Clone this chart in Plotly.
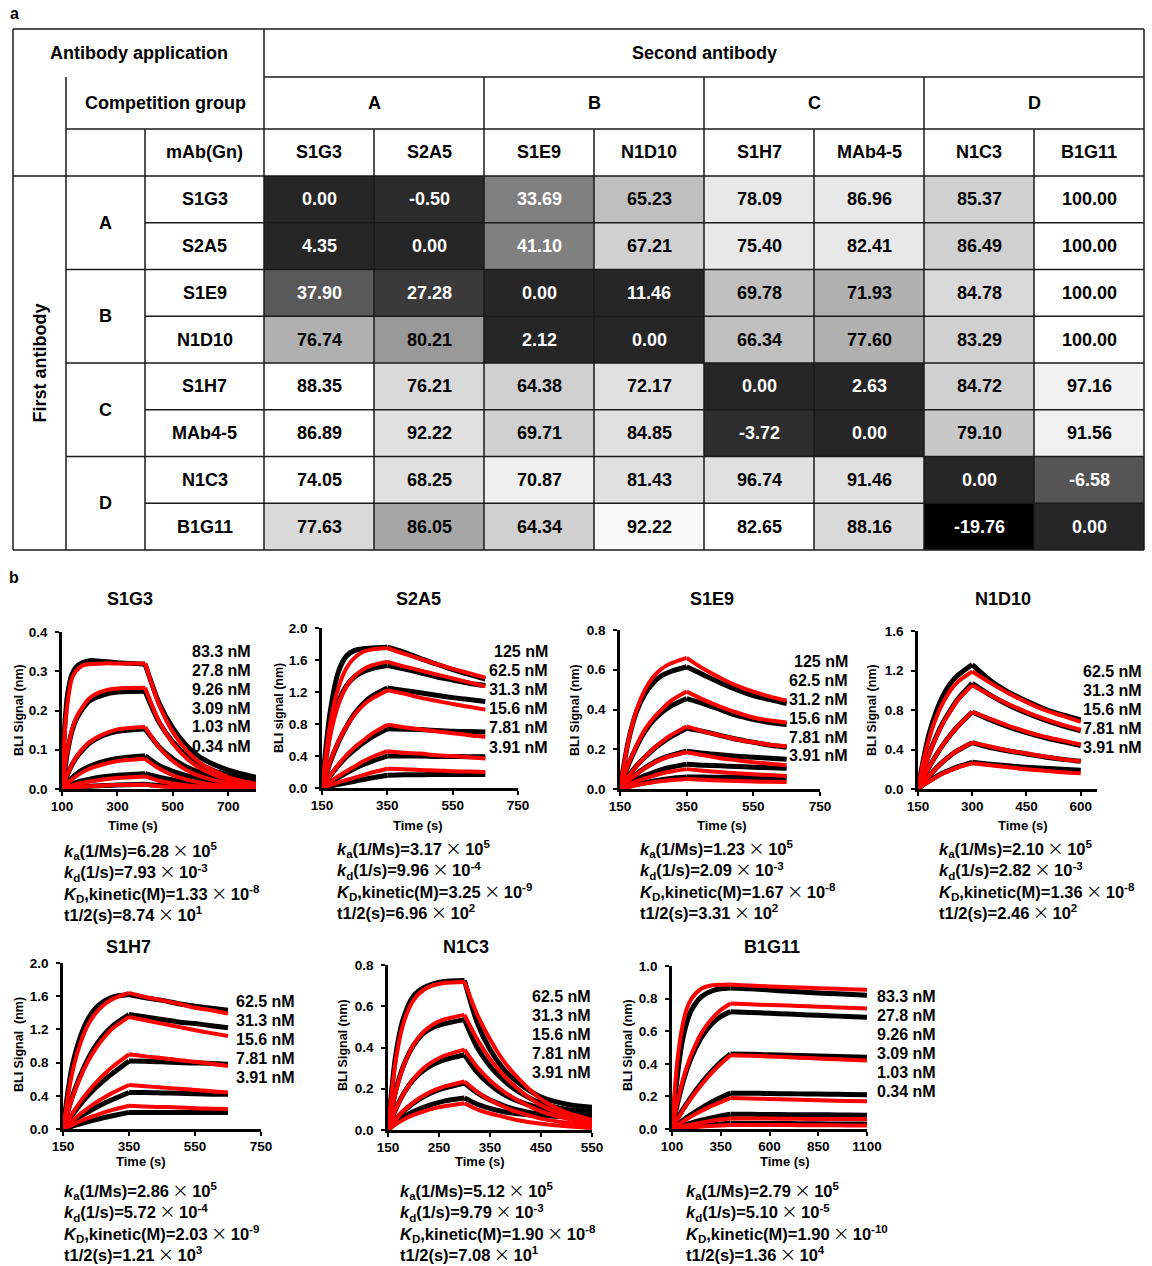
import plotly.graph_objects as go

W, H = 1152, 1266
FONT = "Liberation Sans, Arial, sans-serif"


def X(px):
    return px / W


def Y(py):
    return 1 - py / H


# ---------------------------------------------------------------- panel a data
GROUPS = ["A", "B", "C", "D"]
MABS = ["S1G3", "S2A5", "S1E9", "N1D10", "S1H7", "MAb4-5", "N1C3", "B1G11"]
COMPETITION = [
    [0.00, -0.50, 33.69, 65.23, 78.09, 86.96, 85.37, 100.00],
    [4.35, 0.00, 41.10, 67.21, 75.40, 82.41, 86.49, 100.00],
    [37.90, 27.28, 0.00, 11.46, 69.78, 71.93, 84.78, 100.00],
    [76.74, 80.21, 2.12, 0.00, 66.34, 77.60, 83.29, 100.00],
    [88.35, 76.21, 64.38, 72.17, 0.00, 2.63, 84.72, 97.16],
    [86.89, 92.22, 69.71, 84.85, -3.72, 0.00, 79.10, 91.56],
    [74.05, 68.25, 70.87, 81.43, 96.74, 91.46, 0.00, -6.58],
    [77.63, 86.05, 64.34, 92.22, 82.65, 88.16, -19.76, 0.00],
]
# cell shading (style)
CELL_GRAY = [
    ["#262626", "#2b2b2b", "#7f7f7f", "#bfbfbf", "#e8e8e8", "#e8e8e8", "#d0d0d0", "#ffffff"],
    ["#262626", "#262626", "#808080", "#d0d0d0", "#e8e8e8", "#e8e8e8", "#d0d0d0", "#ffffff"],
    ["#595959", "#3a3a3a", "#262626", "#262626", "#c0c0c0", "#b0b0b0", "#d9d9d9", "#ffffff"],
    ["#b0b0b0", "#999999", "#262626", "#262626", "#bfbfbf", "#b0b0b0", "#d0d0d0", "#ffffff"],
    ["#ffffff", "#d9d9d9", "#d0d0d0", "#e0e0e0", "#262626", "#262626", "#d0d0d0", "#f2f2f2"],
    ["#ffffff", "#e0e0e0", "#d0d0d0", "#e0e0e0", "#2e2e2e", "#262626", "#c8c8c8", "#f0f0f0"],
    ["#ffffff", "#e0e0e0", "#efefef", "#e0e0e0", "#e0e0e0", "#e0e0e0", "#262626", "#555555"],
    ["#d9d9d9", "#a6a6a6", "#d0d0d0", "#f8f8f8", "#ffffff", "#d9d9d9", "#000000", "#262626"],
]

# ---------------------------------------------------------------- panel b data
KIN_LABELS = ["<i>k</i><sub>a</sub>(1/Ms)=", "<i>k</i><sub>d</sub>(1/s)=",
              "<i>K</i><sub>D</sub>,kinetic(M)=", "t1/2(s)="]

# S1G3
S1G3_CONC = ["83.3 nM", "27.8 nM", "9.26 nM", "3.09 nM", "1.03 nM", "0.34 nM"]
S1G3_T_ON = [100, 110, 120, 135, 150, 175, 200, 250, 300, 400]
S1G3_T_OFF = [400, 450, 500, 550, 600, 700, 800]
S1G3_DATA_ON = [
    [0, 0.16, 0.24, 0.29, 0.31, 0.322, 0.327, 0.325, 0.322, 0.318],
    [0, 0.05, 0.095, 0.145, 0.175, 0.205, 0.225, 0.24, 0.247, 0.249],
    [0, 0.02, 0.037, 0.06, 0.078, 0.10, 0.117, 0.137, 0.147, 0.153],
    [0, 0.01, 0.018, 0.028, 0.037, 0.049, 0.058, 0.07, 0.078, 0.085],
    [0, 0.004, 0.008, 0.012, 0.016, 0.021, 0.025, 0.031, 0.035, 0.039],
    [0, 0.001, 0.002, 0.003, 0.004, 0.006, 0.007, 0.009, 0.010, 0.012],
]
S1G3_DATA_OFF = [
    [0.318, 0.22, 0.155, 0.11, 0.08, 0.048, 0.03],
    [0.249, 0.17, 0.12, 0.085, 0.062, 0.035, 0.025],
    [0.153, 0.108, 0.077, 0.056, 0.042, 0.027, 0.02],
    [0.085, 0.06, 0.045, 0.034, 0.027, 0.02, 0.017],
    [0.039, 0.03, 0.023, 0.018, 0.015, 0.012, 0.01],
    [0.012, 0.009, 0.008, 0.007, 0.006, 0.005, 0.005],
]
S1G3_FIT_ON = [
    [0, 0.145, 0.22, 0.28, 0.30, 0.315, 0.318, 0.32, 0.32, 0.32],
    [0, 0.056, 0.10, 0.148, 0.18, 0.21, 0.232, 0.25, 0.256, 0.258],
    [0, 0.02, 0.038, 0.061, 0.08, 0.103, 0.12, 0.14, 0.152, 0.158],
    [0, 0.0077, 0.015, 0.024, 0.032, 0.043, 0.052, 0.063, 0.071, 0.077],
    [0, 0.0027, 0.0053, 0.0086, 0.012, 0.016, 0.019, 0.024, 0.028, 0.032],
    [0, 0.001, 0.002, 0.003, 0.004, 0.006, 0.007, 0.009, 0.010, 0.011],
]
S1G3_FIT_OFF = [
    [0.32, 0.215, 0.145, 0.098, 0.066, 0.030, 0.013],
    [0.258, 0.173, 0.116, 0.078, 0.052, 0.024, 0.011],
    [0.158, 0.106, 0.071, 0.048, 0.032, 0.015, 0.007],
    [0.077, 0.052, 0.035, 0.024, 0.016, 0.007, 0.003],
    [0.032, 0.021, 0.014, 0.009, 0.006, 0.003, 0.001],
    [0.011, 0.007, 0.005, 0.003, 0.002, 0.001, 0.0005],
]
S1G3_KIN_MANT = [6.28, 7.93, 1.33, 8.74]
S1G3_KIN_EXP = [5, -3, -8, 1]

# S2A5
S2A5_CONC = ["125 nM", "62.5 nM", "31.3 nM", "15.6 nM", "7.81 nM", "3.91 nM"]
S2A5_T_ON = [150, 175, 200, 225, 250, 275, 300, 350]
S2A5_T_OFF = [350, 400, 450, 500, 550, 600, 650]
S2A5_DATA_ON = [
    [0, 0.95, 1.45, 1.65, 1.72, 1.74, 1.75, 1.76],
    [0, 0.70, 1.08, 1.28, 1.39, 1.45, 1.49, 1.53],
    [0, 0.32, 0.57, 0.77, 0.93, 1.05, 1.14, 1.25],
    [0, 0.15, 0.28, 0.39, 0.48, 0.56, 0.63, 0.74],
    [0, 0.07, 0.13, 0.19, 0.245, 0.29, 0.33, 0.40],
    [0, 0.02, 0.045, 0.065, 0.085, 0.105, 0.125, 0.16],
]
S2A5_DATA_OFF = [
    [1.76, 1.70, 1.62, 1.55, 1.48, 1.42, 1.36],
    [1.53, 1.49, 1.44, 1.39, 1.35, 1.31, 1.28],
    [1.25, 1.22, 1.19, 1.16, 1.13, 1.105, 1.08],
    [0.74, 0.735, 0.73, 0.72, 0.71, 0.705, 0.70],
    [0.40, 0.40, 0.40, 0.395, 0.395, 0.39, 0.39],
    [0.16, 0.165, 0.165, 0.17, 0.17, 0.17, 0.17],
]
S2A5_FIT_ON = [
    [0, 0.80, 1.25, 1.50, 1.63, 1.70, 1.73, 1.75],
    [0, 0.65, 1.04, 1.27, 1.40, 1.48, 1.53, 1.58],
    [0, 0.33, 0.58, 0.77, 0.92, 1.03, 1.11, 1.22],
    [0, 0.156, 0.29, 0.41, 0.51, 0.59, 0.67, 0.79],
    [0, 0.077, 0.148, 0.21, 0.27, 0.33, 0.38, 0.46],
    [0, 0.035, 0.07, 0.10, 0.13, 0.16, 0.19, 0.24],
]
S2A5_FIT_OFF = [
    [1.75, 1.68, 1.615, 1.55, 1.49, 1.435, 1.38],
    [1.58, 1.52, 1.47, 1.42, 1.37, 1.32, 1.27],
    [1.22, 1.18, 1.13, 1.09, 1.05, 1.015, 0.98],
    [0.79, 0.76, 0.735, 0.71, 0.685, 0.66, 0.64],
    [0.46, 0.44, 0.43, 0.41, 0.40, 0.385, 0.37],
    [0.24, 0.235, 0.225, 0.22, 0.21, 0.205, 0.20],
]
S2A5_KIN_MANT = [3.17, 9.96, 3.25, 6.96]
S2A5_KIN_EXP = [5, -4, -9, 2]

# S1E9
S1E9_CONC = ["125 nM", "62.5 nM", "31.2 nM", "15.6 nM", "7.81 nM", "3.91 nM"]
S1E9_T_ON = [150, 175, 200, 225, 250, 275, 300, 350]
S1E9_T_OFF = [350, 400, 450, 500, 550, 600, 650]
S1E9_DATA_ON = [
    [0, 0.24, 0.39, 0.48, 0.535, 0.57, 0.59, 0.615],
    [0, 0.12, 0.215, 0.29, 0.345, 0.385, 0.415, 0.455],
    [0, 0.065, 0.118, 0.16, 0.20, 0.232, 0.26, 0.305],
    [0, 0.04, 0.077, 0.107, 0.132, 0.153, 0.168, 0.19],
    [0, 0.025, 0.048, 0.067, 0.083, 0.097, 0.108, 0.125],
    [0, 0.012, 0.023, 0.032, 0.04, 0.047, 0.053, 0.06],
]
S1E9_DATA_OFF = [
    [0.615, 0.575, 0.535, 0.50, 0.47, 0.45, 0.43],
    [0.455, 0.43, 0.40, 0.37, 0.35, 0.335, 0.325],
    [0.305, 0.29, 0.27, 0.25, 0.235, 0.22, 0.21],
    [0.19, 0.18, 0.172, 0.165, 0.16, 0.155, 0.15],
    [0.125, 0.12, 0.117, 0.113, 0.11, 0.107, 0.105],
    [0.06, 0.06, 0.059, 0.058, 0.057, 0.056, 0.055],
]
S1E9_FIT_ON = [
    [0, 0.24, 0.40, 0.50, 0.565, 0.605, 0.63, 0.66],
    [0, 0.124, 0.22, 0.30, 0.356, 0.40, 0.44, 0.49],
    [0, 0.062, 0.116, 0.162, 0.203, 0.237, 0.268, 0.315],
    [0, 0.04, 0.075, 0.105, 0.13, 0.15, 0.165, 0.185],
    [0, 0.02, 0.038, 0.053, 0.066, 0.078, 0.087, 0.10],
    [0, 0.01, 0.019, 0.027, 0.034, 0.04, 0.044, 0.05],
]
S1E9_FIT_OFF = [
    [0.66, 0.605, 0.56, 0.52, 0.49, 0.465, 0.445],
    [0.49, 0.45, 0.415, 0.385, 0.36, 0.345, 0.335],
    [0.315, 0.29, 0.27, 0.25, 0.235, 0.223, 0.215],
    [0.185, 0.17, 0.155, 0.145, 0.135, 0.127, 0.12],
    [0.10, 0.092, 0.085, 0.079, 0.074, 0.07, 0.066],
    [0.05, 0.046, 0.043, 0.04, 0.038, 0.036, 0.035],
]
S1E9_KIN_MANT = [1.23, 2.09, 1.67, 3.31]
S1E9_KIN_EXP = [5, -3, -8, 2]

# N1D10
N1D10_CONC = ["62.5 nM", "31.3 nM", "15.6 nM", "7.81 nM", "3.91 nM"]
N1D10_T_ON = [150, 165, 180, 200, 220, 240, 260, 300]
N1D10_T_OFF = [300, 350, 400, 450, 500, 550, 600]
N1D10_DATA_ON = [
    [0, 0.30, 0.55, 0.78, 0.95, 1.07, 1.15, 1.26],
    [0, 0.19, 0.35, 0.53, 0.68, 0.80, 0.91, 1.07],
    [0, 0.113, 0.217, 0.342, 0.452, 0.55, 0.635, 0.78],
    [0, 0.07, 0.13, 0.21, 0.28, 0.34, 0.39, 0.47],
    [0, 0.045, 0.08, 0.125, 0.165, 0.195, 0.225, 0.27],
]
N1D10_DATA_OFF = [
    [1.26, 1.10, 0.98, 0.89, 0.81, 0.75, 0.70],
    [1.07, 0.95, 0.85, 0.77, 0.70, 0.64, 0.59],
    [0.78, 0.70, 0.63, 0.57, 0.52, 0.48, 0.44],
    [0.47, 0.42, 0.385, 0.355, 0.325, 0.30, 0.28],
    [0.27, 0.25, 0.235, 0.22, 0.21, 0.20, 0.19],
]
N1D10_FIT_ON = [
    [0, 0.28, 0.50, 0.72, 0.88, 1.00, 1.085, 1.19],
    [0, 0.18, 0.34, 0.52, 0.67, 0.79, 0.90, 1.05],
    [0, 0.113, 0.217, 0.342, 0.452, 0.55, 0.635, 0.78],
    [0, 0.07, 0.13, 0.21, 0.28, 0.34, 0.39, 0.47],
    [0, 0.04, 0.075, 0.12, 0.16, 0.19, 0.22, 0.26],
]
N1D10_FIT_OFF = [
    [1.19, 1.075, 0.97, 0.88, 0.80, 0.74, 0.68],
    [1.05, 0.95, 0.86, 0.78, 0.71, 0.65, 0.60],
    [0.78, 0.71, 0.64, 0.58, 0.53, 0.49, 0.45],
    [0.47, 0.43, 0.39, 0.36, 0.33, 0.30, 0.28],
    [0.26, 0.24, 0.22, 0.20, 0.185, 0.17, 0.16],
]
N1D10_KIN_MANT = [2.10, 2.82, 1.36, 2.46]
N1D10_KIN_EXP = [5, -3, -8, 2]

# S1H7
S1H7_CONC = ["62.5 nM", "31.3 nM", "15.6 nM", "7.81 nM", "3.91 nM"]
S1H7_T_ON = [150, 175, 200, 225, 250, 275, 300, 350]
S1H7_T_OFF = [350, 400, 450, 500, 550, 600, 650]
S1H7_DATA_ON = [
    [0, 0.70, 1.08, 1.32, 1.46, 1.54, 1.59, 1.62],
    [0, 0.35, 0.62, 0.84, 1.01, 1.14, 1.24, 1.38],
    [0, 0.15, 0.285, 0.40, 0.50, 0.59, 0.67, 0.82],
    [0, 0.075, 0.145, 0.205, 0.26, 0.31, 0.355, 0.44],
    [0, 0.03, 0.06, 0.087, 0.113, 0.138, 0.16, 0.20],
]
S1H7_DATA_OFF = [
    [1.62, 1.58, 1.55, 1.51, 1.48, 1.455, 1.43],
    [1.38, 1.35, 1.32, 1.29, 1.27, 1.245, 1.22],
    [0.82, 0.815, 0.81, 0.80, 0.795, 0.79, 0.78],
    [0.44, 0.44, 0.435, 0.43, 0.425, 0.42, 0.42],
    [0.20, 0.20, 0.20, 0.20, 0.20, 0.20, 0.20],
]
S1H7_FIT_ON = [
    [0, 0.62, 1.00, 1.25, 1.40, 1.50, 1.565, 1.64],
    [0, 0.335, 0.60, 0.81, 0.975, 1.105, 1.21, 1.35],
    [0, 0.168, 0.314, 0.445, 0.56, 0.66, 0.75, 0.90],
    [0, 0.09, 0.175, 0.25, 0.32, 0.38, 0.435, 0.53],
    [0, 0.045, 0.09, 0.13, 0.165, 0.20, 0.23, 0.28],
]
S1H7_FIT_OFF = [
    [1.64, 1.59, 1.55, 1.51, 1.46, 1.43, 1.39],
    [1.35, 1.31, 1.27, 1.23, 1.19, 1.155, 1.12],
    [0.90, 0.875, 0.855, 0.83, 0.81, 0.785, 0.76],
    [0.53, 0.515, 0.50, 0.485, 0.47, 0.455, 0.44],
    [0.28, 0.27, 0.265, 0.26, 0.25, 0.245, 0.24],
]
S1H7_KIN_MANT = [2.86, 5.72, 2.03, 1.21]
S1H7_KIN_EXP = [5, -4, -9, 3]

# N1C3
N1C3_CONC = ["62.5 nM", "31.3 nM", "15.6 nM", "7.81 nM", "3.91 nM"]
N1C3_T_ON = [150, 165, 180, 200, 220, 240, 260, 300]
N1C3_T_OFF = [300, 325, 350, 375, 400, 450, 500, 550]
N1C3_DATA_ON = [
    [0, 0.36, 0.54, 0.65, 0.69, 0.71, 0.72, 0.725],
    [0, 0.19, 0.31, 0.41, 0.47, 0.50, 0.515, 0.535],
    [0, 0.10, 0.175, 0.245, 0.29, 0.32, 0.34, 0.365],
    [0, 0.05, 0.09, 0.13, 0.162, 0.186, 0.203, 0.228],
    [0, 0.035, 0.062, 0.09, 0.11, 0.127, 0.14, 0.155],
]
N1C3_DATA_OFF = [
    [0.725, 0.52, 0.39, 0.30, 0.24, 0.16, 0.125, 0.11],
    [0.535, 0.40, 0.31, 0.245, 0.195, 0.13, 0.10, 0.09],
    [0.365, 0.28, 0.22, 0.175, 0.145, 0.105, 0.085, 0.075],
    [0.228, 0.18, 0.145, 0.12, 0.10, 0.075, 0.065, 0.06],
    [0.155, 0.125, 0.105, 0.09, 0.08, 0.07, 0.065, 0.06],
]
N1C3_FIT_ON = [
    [0, 0.335, 0.515, 0.63, 0.68, 0.703, 0.713, 0.718],
    [0, 0.183, 0.307, 0.413, 0.477, 0.514, 0.536, 0.558],
    [0, 0.098, 0.174, 0.247, 0.30, 0.335, 0.36, 0.39],
    [0, 0.05, 0.092, 0.134, 0.167, 0.192, 0.21, 0.235],
    [0, 0.028, 0.05, 0.073, 0.09, 0.105, 0.115, 0.13],
]
N1C3_FIT_OFF = [
    [0.718, 0.56, 0.44, 0.34, 0.265, 0.15, 0.085, 0.05],
    [0.558, 0.44, 0.345, 0.27, 0.21, 0.12, 0.07, 0.04],
    [0.39, 0.305, 0.24, 0.19, 0.15, 0.09, 0.055, 0.03],
    [0.235, 0.185, 0.145, 0.115, 0.09, 0.055, 0.035, 0.02],
    [0.13, 0.10, 0.08, 0.065, 0.05, 0.03, 0.018, 0.01],
]
N1C3_KIN_MANT = [5.12, 9.79, 1.90, 7.08]
N1C3_KIN_EXP = [5, -3, -8, 1]

# B1G11
B1G11_CONC = ["83.3 nM", "27.8 nM", "9.26 nM", "3.09 nM", "1.03 nM", "0.34 nM"]
B1G11_T_ON = [100, 125, 150, 175, 200, 250, 300, 350, 400]
B1G11_T_OFF = [400, 500, 600, 700, 800, 900, 1000, 1100]
B1G11_DATA_ON = [
    [0, 0.30, 0.52, 0.65, 0.73, 0.81, 0.845, 0.86, 0.865],
    [0, 0.14, 0.26, 0.36, 0.44, 0.56, 0.64, 0.69, 0.72],
    [0, 0.06, 0.11, 0.155, 0.20, 0.28, 0.35, 0.41, 0.46],
    [0, 0.025, 0.048, 0.07, 0.09, 0.128, 0.163, 0.193, 0.22],
    [0, 0.01, 0.02, 0.029, 0.038, 0.054, 0.068, 0.08, 0.09],
    [0, 0.004, 0.008, 0.012, 0.015, 0.021, 0.026, 0.031, 0.035],
]
B1G11_DATA_OFF = [
    [0.865, 0.86, 0.852, 0.845, 0.838, 0.832, 0.826, 0.82],
    [0.72, 0.715, 0.71, 0.705, 0.70, 0.695, 0.69, 0.685],
    [0.46, 0.458, 0.455, 0.452, 0.45, 0.447, 0.444, 0.44],
    [0.22, 0.219, 0.218, 0.216, 0.215, 0.213, 0.212, 0.21],
    [0.09, 0.09, 0.089, 0.088, 0.088, 0.087, 0.086, 0.085],
    [0.035, 0.034, 0.034, 0.033, 0.032, 0.031, 0.031, 0.03],
]
B1G11_FIT_ON = [
    [0, 0.39, 0.61, 0.735, 0.80, 0.86, 0.88, 0.885, 0.887],
    [0, 0.15, 0.275, 0.377, 0.46, 0.587, 0.67, 0.73, 0.77],
    [0, 0.053, 0.102, 0.149, 0.192, 0.27, 0.34, 0.40, 0.453],
    [0, 0.02, 0.04, 0.06, 0.078, 0.11, 0.14, 0.165, 0.19],
    [0, 0.007, 0.014, 0.021, 0.027, 0.039, 0.049, 0.058, 0.065],
    [0, 0.003, 0.005, 0.008, 0.01, 0.015, 0.019, 0.022, 0.025],
]
B1G11_FIT_OFF = [
    [0.887, 0.88, 0.875, 0.87, 0.866, 0.862, 0.858, 0.855],
    [0.77, 0.765, 0.76, 0.757, 0.753, 0.748, 0.744, 0.74],
    [0.453, 0.45, 0.445, 0.44, 0.435, 0.43, 0.425, 0.42],
    [0.19, 0.187, 0.184, 0.181, 0.178, 0.175, 0.172, 0.17],
    [0.065, 0.064, 0.064, 0.063, 0.062, 0.061, 0.061, 0.06],
    [0.025, 0.025, 0.024, 0.024, 0.023, 0.023, 0.022, 0.022],
]
B1G11_KIN_MANT = [2.79, 5.10, 1.90, 1.36]
B1G11_KIN_EXP = [5, -5, -10, 4]

# tick values
S1G3_XT, S1G3_YT = [100, 300, 500, 700], [0.0, 0.1, 0.2, 0.3, 0.4]
S2A5_XT, S2A5_YT = [150, 350, 550, 750], [0.0, 0.4, 0.8, 1.2, 1.6, 2.0]
S1E9_XT, S1E9_YT = [150, 350, 550, 750], [0.0, 0.2, 0.4, 0.6, 0.8]
N1D10_XT, N1D10_YT = [150, 300, 450, 600], [0.0, 0.4, 0.8, 1.2, 1.6]
S1H7_XT, S1H7_YT = [150, 350, 550, 750], [0.0, 0.4, 0.8, 1.2, 1.6, 2.0]
N1C3_XT, N1C3_YT = [150, 250, 350, 450, 550], [0.0, 0.2, 0.4, 0.6, 0.8]
B1G11_XT, B1G11_YT = [100, 350, 600, 850, 1100], [0.0, 0.2, 0.4, 0.6, 0.8, 1.0]

PANELS = [
    dict(name="S1G3", conc=S1G3_CONC, t_on=S1G3_T_ON, t_off=S1G3_T_OFF,
         d_on=S1G3_DATA_ON, d_off=S1G3_DATA_OFF, f_on=S1G3_FIT_ON, f_off=S1G3_FIT_OFF,
         mant=S1G3_KIN_MANT, exp=S1G3_KIN_EXP, xt=S1G3_XT, yt=S1G3_YT,
         ytitle="BLI Signal (nm)"),
    dict(name="S2A5", conc=S2A5_CONC, t_on=S2A5_T_ON, t_off=S2A5_T_OFF,
         d_on=S2A5_DATA_ON, d_off=S2A5_DATA_OFF, f_on=S2A5_FIT_ON, f_off=S2A5_FIT_OFF,
         mant=S2A5_KIN_MANT, exp=S2A5_KIN_EXP, xt=S2A5_XT, yt=S2A5_YT,
         ytitle="BLI signal (nm)"),
    dict(name="S1E9", conc=S1E9_CONC, t_on=S1E9_T_ON, t_off=S1E9_T_OFF,
         d_on=S1E9_DATA_ON, d_off=S1E9_DATA_OFF, f_on=S1E9_FIT_ON, f_off=S1E9_FIT_OFF,
         mant=S1E9_KIN_MANT, exp=S1E9_KIN_EXP, xt=S1E9_XT, yt=S1E9_YT,
         ytitle="BLI Signal (nm)"),
    dict(name="N1D10", conc=N1D10_CONC, t_on=N1D10_T_ON, t_off=N1D10_T_OFF,
         d_on=N1D10_DATA_ON, d_off=N1D10_DATA_OFF, f_on=N1D10_FIT_ON, f_off=N1D10_FIT_OFF,
         mant=N1D10_KIN_MANT, exp=N1D10_KIN_EXP, xt=N1D10_XT, yt=N1D10_YT,
         ytitle="BLI Signal (nm)"),
    dict(name="S1H7", conc=S1H7_CONC, t_on=S1H7_T_ON, t_off=S1H7_T_OFF,
         d_on=S1H7_DATA_ON, d_off=S1H7_DATA_OFF, f_on=S1H7_FIT_ON, f_off=S1H7_FIT_OFF,
         mant=S1H7_KIN_MANT, exp=S1H7_KIN_EXP, xt=S1H7_XT, yt=S1H7_YT,
         ytitle="BLI Signal  (nm)"),
    dict(name="N1C3", conc=N1C3_CONC, t_on=N1C3_T_ON, t_off=N1C3_T_OFF,
         d_on=N1C3_DATA_ON, d_off=N1C3_DATA_OFF, f_on=N1C3_FIT_ON, f_off=N1C3_FIT_OFF,
         mant=N1C3_KIN_MANT, exp=N1C3_KIN_EXP, xt=N1C3_XT, yt=N1C3_YT,
         ytitle="BLI Signal (nm)"),
    dict(name="B1G11", conc=B1G11_CONC, t_on=B1G11_T_ON, t_off=B1G11_T_OFF,
         d_on=B1G11_DATA_ON, d_off=B1G11_DATA_OFF, f_on=B1G11_FIT_ON, f_off=B1G11_FIT_OFF,
         mant=B1G11_KIN_MANT, exp=B1G11_KIN_EXP, xt=B1G11_XT, yt=B1G11_YT,
         ytitle="BLI Signal (nm)"),
]

# ---------------------------------------------------------------- layout (pixel positions, styles)
# kin = (left x, centre y of the 4-line block)
PANEL_POS = [
    dict(box=(62, 256, 789, 632), xr=(100, 800), title=(130, 599), ylab=(19, 710), xlab=(133, 825),
         conc=(190, 651, 19.0, "left"), kin=(62, 882)),
    dict(box=(322, 518, 788, 628), xr=(150, 750), title=(418, 599), ylab=(279, 708), xlab=(418, 825),
         conc=(550, 651, 19.2, "right"), kin=(335, 880)),
    dict(box=(620, 820, 789, 630), xr=(150, 750), title=(712, 599), ylab=(575, 710), xlab=(722, 825),
         conc=(850, 661, 19.0, "right"), kin=(638, 880)),
    dict(box=(918, 1097, 789, 631), xr=(150, 645), title=(1003, 599), ylab=(872, 710), xlab=(1023, 825),
         conc=(1144, 671, 19.0, "right"), kin=(937, 880)),
    dict(box=(63, 261, 1129, 963), xr=(150, 750), title=(128, 947), ylab=(19, 1045), xlab=(141, 1161),
         conc=(297, 1001, 19.2, "right"), kin=(62, 1222)),
    dict(box=(388, 592, 1130, 965), xr=(150, 550), title=(466, 947), ylab=(343, 1045), xlab=(480, 1161),
         conc=(530, 996, 19.0, "left"), kin=(398, 1222)),
    dict(box=(672, 867, 1129, 966), xr=(100, 1100), title=(772, 947), ylab=(628, 1045), xlab=(785, 1161),
         conc=(875, 996, 19.0, "left"), kin=(684, 1222)),
]

fig = go.Figure()
annotations = []
shapes = []


def ann(text, xp, yp, size, xanchor="center", yanchor="middle", angle=0, color="black", bold=True,
        align="center"):
    annotations.append(dict(
        text=text, x=X(xp), y=Y(yp), xref="paper", yref="paper", showarrow=False,
        xanchor=xanchor, yanchor=yanchor, textangle=angle, align=align,
        font=dict(family=FONT, size=size, color=color, weight="bold" if bold else "normal"),
    ))


# ---------------------------------------------------------------- panel a: table
TBL_L, TBL_R, TBL_T, TBL_B = 13, 1144, 29, 550
HDR1, HDR2, HDR3 = 77, 129, 176
COL0, COL1, COL2 = 13, 66, 145
DATA_X0 = 264
CW = (TBL_R - DATA_X0) / 8
RH = (TBL_B - HDR3) / 8

for r in range(8):
    for c in range(8):
        shapes.append(dict(type="rect", xref="paper", yref="paper",
                           x0=X(DATA_X0 + c * CW), x1=X(DATA_X0 + (c + 1) * CW),
                           y0=Y(HDR3 + (r + 1) * RH), y1=Y(HDR3 + r * RH),
                           fillcolor=CELL_GRAY[r][c], line=dict(width=0), layer="below"))

LINE_C = "#1a1a1a"


def hline(y, x0, x1, w=1.5):
    shapes.append(dict(type="line", xref="paper", yref="paper", x0=X(x0), x1=X(x1), y0=Y(y), y1=Y(y),
                       line=dict(color=LINE_C, width=w)))


def vline(x, y0, y1, w=1.5):
    shapes.append(dict(type="line", xref="paper", yref="paper", x0=X(x), x1=X(x), y0=Y(y0), y1=Y(y1),
                       line=dict(color=LINE_C, width=w)))


hline(TBL_T, TBL_L, TBL_R)
hline(TBL_B, TBL_L, TBL_R)
vline(TBL_L, TBL_T, TBL_B)
vline(TBL_R, TBL_T, TBL_B)
hline(HDR1, DATA_X0, TBL_R)
hline(HDR2, COL1, TBL_R)
hline(HDR3, TBL_L, TBL_R)
for r in range(1, 8):
    y = HDR3 + r * RH
    hline(y, COL1 if r % 2 == 0 else COL2, TBL_R)
vline(COL1, HDR1, TBL_B)
vline(COL2, HDR2, TBL_B)
vline(DATA_X0, TBL_T, TBL_B)
for k in range(1, 4):
    vline(DATA_X0 + 2 * k * CW, HDR1, TBL_B)
for k in range(4):
    vline(DATA_X0 + (2 * k + 1) * CW, HDR2, TBL_B)

TS = 18
ann("a", 14, 13, 16)
ann("Antibody application", (COL0 + DATA_X0) / 2, (TBL_T + HDR1) / 2, TS)
ann("Second antibody", (DATA_X0 + TBL_R) / 2, (TBL_T + HDR1) / 2, TS)
ann("Competition group", (COL1 + DATA_X0) / 2, (HDR1 + HDR2) / 2, TS)
ann("mAb(Gn)", (COL2 + DATA_X0) / 2, (HDR2 + HDR3) / 2, TS)
for k, g in enumerate(GROUPS):
    ann(g, DATA_X0 + (2 * k + 1) * CW, (HDR1 + HDR2) / 2, TS)
    ann(g, (COL1 + COL2) / 2, HDR3 + (2 * k + 1) * RH, TS)
for j, m in enumerate(MABS):
    ann(m, DATA_X0 + (j + 0.5) * CW, (HDR2 + HDR3) / 2, TS)
    ann(m, (COL2 + DATA_X0) / 2, HDR3 + (j + 0.5) * RH, TS)
ann("First antibody", (COL0 + COL1) / 2, (HDR3 + TBL_B) / 2, TS, angle=-90)


def is_dark(hexcol):
    return int(hexcol[1:3], 16) < 0x90


for r in range(8):
    for c in range(8):
        col = "white" if is_dark(CELL_GRAY[r][c]) else "black"
        ann(f"{COMPETITION[r][c]:.2f}", DATA_X0 + (c + 0.5) * CW, HDR3 + (r + 0.5) * RH, TS, color=col)

# ---------------------------------------------------------------- panel b: sensorgrams
ann("b", 14, 577, 16)
TIMES = "<span style=\"font-family:'Noto Sans CJK SC';font-weight:normal\">\u2009×\u2009</span>"

axis_common = dict(showline=True, linecolor="black", linewidth=2.5, ticks="outside", ticklen=4,
                   tickwidth=2, tickcolor="black", showgrid=False, zeroline=False, fixedrange=True,
                   automargin=False,
                   tickfont=dict(family=FONT, size=13.5, color="black", weight="bold"))
axes = {}
for i, (p, pos) in enumerate(zip(PANELS, PANEL_POS), start=1):
    sfx = "" if i == 1 else str(i)
    xa, ya = "x" + sfx, "y" + sfx
    x0, x1, yb, yt = pos["box"]
    axes["xaxis" + sfx] = dict(domain=[X(x0), X(x1)], range=list(pos["xr"]), anchor=ya,
                               tickvals=p["xt"], ticktext=[str(v) for v in p["xt"]],
                               ticklabelstandoff=-1, **axis_common)
    axes["yaxis" + sfx] = dict(domain=[Y(yb), Y(yt)], range=[0, p["yt"][-1]], anchor=xa,
                               tickvals=p["yt"], ticktext=[f"{v:.1f}" for v in p["yt"]],
                               ticklabelstandoff=5, **axis_common)
    for color, on, off, width in (("black", p["d_on"], p["d_off"], 5),
                                  ("#ff0000", p["f_on"], p["f_off"], 4)):
        for c_on, c_off in zip(on, off):
            fig.add_trace(go.Scatter(
                x=p["t_on"] + [None] + p["t_off"], y=c_on + [None] + c_off,
                mode="lines", line=dict(color=color, width=width, shape="spline", smoothing=0.8),
                xaxis=xa, yaxis=ya, showlegend=False, hoverinfo="skip"))
    ann(p["name"], pos["title"][0], pos["title"][1], 18)
    ann(p["ytitle"], pos["ylab"][0], pos["ylab"][1], 12.5, angle=-90)
    ann("Time (s)", pos["xlab"][0], pos["xlab"][1], 13)
    cx, cy, cdy, calign = pos["conc"]
    for k, lab in enumerate(p["conc"]):
        ann(lab, cx, cy + k * cdy, 16, xanchor=calign)
    kx, ky = pos["kin"]
    kin_lines = [f"{lab}{m:.2f}{TIMES}10<sup>{e}</sup>"
                 for lab, m, e in zip(KIN_LABELS, p["mant"], p["exp"])]
    ann("<br>".join(kin_lines), kx, ky, 16.5, xanchor="left", align="left")

fig.update_layout(
    width=W, height=H, autosize=False,
    margin=dict(l=0, r=0, t=0, b=0, pad=0, autoexpand=False),
    paper_bgcolor="white", plot_bgcolor="rgba(0,0,0,0)",
    showlegend=False, annotations=annotations, shapes=shapes,
    **axes,
)

fig.write_html("out.html", config={"displayModeBar": False},
               post_script="document.body.style.margin='0px';")
